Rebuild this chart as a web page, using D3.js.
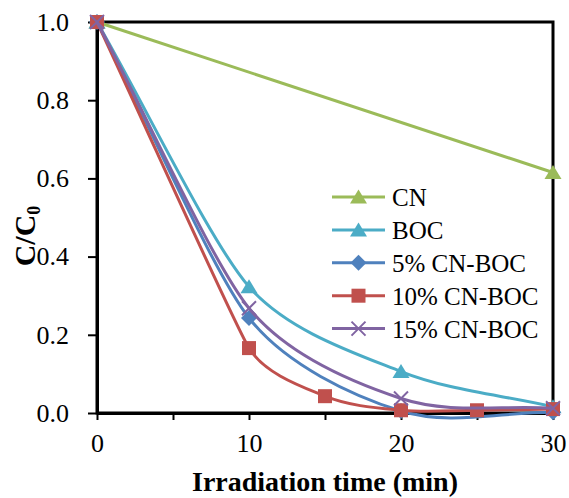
<!DOCTYPE html>
<html>
<head>
<meta charset="utf-8">
<script src="https://cdn.jsdelivr.net/npm/d3@7"></script>
<style>
  body { margin: 0; background: #fff; }
  text { font-family: "Liberation Serif", "Times New Roman", serif; }
</style>
</head>
<body>
<div id="chart"></div>
<script>
// data
var seriesNames = ["CN", "BOC", "5% CN-BOC", "10% CN-BOC", "15% CN-BOC"];
var cnTime = [0, 30];
var cnVals = [1.0, 0.615];
var bocTime = [0, 10, 20, 30];
var bocVals = [1.0, 0.323, 0.106, 0.016];
var cn5Time = [0, 10, 20, 30];
var cn5Vals = [1.0, 0.243, 0.005, 0.002];
var cn10Time = [0, 10, 15, 20, 25, 30];
var cn10Vals = [1.0, 0.166, 0.043, 0.007, 0.007, 0.01];
var cn15Time = [0, 10, 20, 30];
var cn15Vals = [1.0, 0.268, 0.037, 0.012];
var xTicks = [0, 5, 10, 15, 20, 25, 30];
var xLabels = [0, 10, 20, 30];
var yTicks = [0, 0.2, 0.4, 0.6, 0.8, 1.0];

var colors = ["#9BBB59", "#4BACC6", "#4F81BD", "#C0504D", "#8064A2"];
var markers = ["triangle", "triangle", "diamond", "square", "cross"];

var series = [
  {time: cnTime, vals: cnVals},
  {time: bocTime, vals: bocVals},
  {time: cn5Time, vals: cn5Vals},
  {time: cn10Time, vals: cn10Vals},
  {time: cn15Time, vals: cn15Vals}
].map(function(s, i) {
  return {
    name: seriesNames[i], color: colors[i], marker: markers[i],
    points: s.time.map(function(t, j) { return {t: t, v: s.vals[j]}; })
  };
});

var width = 569, height = 498;
var margin = {top: 22, right: 16, bottom: 85, left: 97};
var plotW = width - margin.left - margin.right,
    plotH = height - margin.top - margin.bottom;

var svg = d3.select("#chart")
            .append("svg")
            .attr("width", width)
            .attr("height", height);

var g = svg.append("g")
           .attr("transform", `translate(${margin.left},${margin.top})`);

var x = d3.scaleLinear().domain([0, 30]).range([0, plotW]);
var y = d3.scaleLinear().domain([0, 1]).range([plotH, 0]);

// frame (top & right)
g.append("rect")
  .attr("x", 0).attr("y", 0)
  .attr("width", plotW).attr("height", plotH)
  .attr("fill", "none")
  .attr("stroke", "#000")
  .attr("stroke-width", 3);

// x axis
var xAxis = g.append("g")
  .attr("transform", `translate(0,${plotH})`)
  .call(d3.axisBottom(x).tickValues(xTicks).tickSize(7).tickSizeOuter(0)
        .tickFormat(function(d) { return xLabels.indexOf(d) >= 0 ? d : ""; }));
xAxis.select(".domain").attr("stroke-width", 3);
xAxis.selectAll(".tick line").attr("stroke-width", 2);
xAxis.selectAll(".tick text")
  .attr("font-size", 26)
  .attr("fill", "#000")
  .attr("dy", null)
  .attr("y", 39);

// y axis
var yAxis = g.append("g")
  .call(d3.axisLeft(y).tickValues(yTicks).tickSize(9).tickPadding(19).tickSizeOuter(0)
        .tickFormat(d3.format(".1f")));
yAxis.select(".domain").attr("stroke-width", 3);
yAxis.selectAll(".tick line").attr("stroke-width", 2);
yAxis.selectAll(".tick text")
  .attr("font-size", 26)
  .attr("fill", "#000");

// axis titles
svg.append("text")
  .attr("x", margin.left + plotW / 2)
  .attr("y", 491)
  .attr("text-anchor", "middle")
  .attr("font-size", 28)
  .attr("font-weight", "bold")
  .text("Irradiation time (min)");

var yTitle = svg.append("text")
  .attr("transform", "translate(35,236) rotate(-90)")
  .attr("text-anchor", "middle")
  .attr("font-size", 30)
  .attr("font-weight", "bold");
yTitle.append("tspan").text("C/C");
yTitle.append("tspan").attr("font-size", 18).attr("dy", 5).text("0");

// marker drawing
function drawMarker(sel, type, color) {
  if (type === "triangle") {
    sel.append("path").attr("d", "M0,-7.5L8.5,6.5L-8.5,6.5Z").attr("fill", color);
  } else if (type === "diamond") {
    sel.append("path").attr("d", "M0,-8L8,0L0,8L-8,0Z").attr("fill", color);
  } else if (type === "square") {
    sel.append("rect").attr("x", -7).attr("y", -7).attr("width", 14).attr("height", 14)
       .attr("fill", color);
  } else if (type === "cross") {
    sel.append("path").attr("d", "M-7,-7L7,7M-7,7L7,-7")
       .attr("stroke", color).attr("stroke-width", 2).attr("fill", "none");
  }
}

// smoothed line, spreadsheet style: tangent along neighbours,
// handle length limited by the shorter adjacent segment
function smoothPath(pts) {
  var p = pts.map(function(d) { return [x(d.t), y(d.v)]; });
  var path = d3.path();
  path.moveTo(p[0][0], p[0][1]);
  if (p.length === 2) { path.lineTo(p[1][0], p[1][1]); return path.toString(); }
  var dist = function(a, b) { return Math.hypot(b[0] - a[0], b[1] - a[1]); };
  var handles = p.map(function(pt, i) {
    if (i === 0 || i === p.length - 1) return null;
    var dx = p[i + 1][0] - p[i - 1][0], dy = p[i + 1][1] - p[i - 1][1];
    var len = Math.hypot(dx, dy);
    var h = Math.min(dist(p[i - 1], pt), dist(pt, p[i + 1])) / 3;
    return [dx / len * h, dy / len * h];
  });
  for (var i = 0; i < p.length - 1; i++) {
    var a = p[i], b = p[i + 1];
    var c1 = handles[i] ? [a[0] + handles[i][0], a[1] + handles[i][1]]
                        : [a[0] + (b[0] - a[0]) / 3, a[1] + (b[1] - a[1]) / 3];
    var c2 = handles[i + 1] ? [b[0] - handles[i + 1][0], b[1] - handles[i + 1][1]]
                            : [b[0] - (b[0] - a[0]) / 3, b[1] - (b[1] - a[1]) / 3];
    path.bezierCurveTo(c1[0], c1[1], c2[0], c2[1], b[0], b[1]);
  }
  return path.toString();
}

var sg = g.selectAll(".series")
  .data(series)
  .join("g")
  .attr("class", "series");

sg.append("path")
  .attr("d", function(d) { return smoothPath(d.points); })
  .attr("fill", "none")
  .attr("stroke", function(d) { return d.color; })
  .attr("stroke-width", 3);

sg.each(function(s) {
  d3.select(this).selectAll(".mk")
    .data(s.points)
    .join("g")
    .attr("class", "mk")
    .attr("transform", function(d) { return `translate(${x(d.t)},${y(d.v)})`; })
    .each(function() { drawMarker(d3.select(this), s.marker, s.color); });
});

// legend
var legend = svg.append("g")
  .attr("transform", "translate(332,197)");

var lg = legend.selectAll("g")
  .data(series)
  .join("g")
  .attr("transform", function(d, i) { return `translate(0,${i * 32.9})`; });

lg.append("line")
  .attr("x1", 0).attr("x2", 53)
  .attr("y1", 0).attr("y2", 0)
  .attr("stroke", function(d) { return d.color; })
  .attr("stroke-width", 3);

lg.append("g")
  .attr("transform", "translate(26.5,0)")
  .each(function(d) { drawMarker(d3.select(this), d.marker, d.color); });

lg.append("text")
  .attr("x", 60)
  .attr("y", 9)
  .attr("font-size", 25)
  .text(function(d) { return d.name; });
</script>
</body>
</html>
